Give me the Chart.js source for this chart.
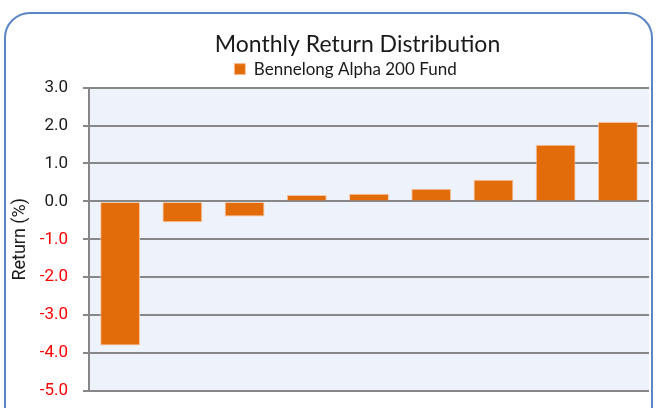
<!DOCTYPE html>
<html>
<head>
<meta charset="utf-8">
<script src="https://cdn.jsdelivr.net/npm/chart.js@4.4.1/dist/chart.umd.min.js"></script>
<style>
  html, body { margin: 0; padding: 0; background: #fff; }
  #wrap { position: relative; width: 658px; height: 408px; overflow: hidden; }
  #frame {
    position: absolute; left: 4px; top: 12px; width: 649px; height: 430px;
    border: 2px solid #5a86c4; border-radius: 26px; box-sizing: border-box;
  }
  canvas { position: absolute; left: 0; top: 0; }
</style>
</head>
<body>
<div id="wrap">
  <div id="frame"></div>
  <canvas id="chart" width="658" height="408"></canvas>
</div>
<script>
// ---- Data ----
const months = ['1', '2', '3', '4', '5', '6', '7', '8', '9'];
const returns = [-3.8, -0.55, -0.4, 0.17, 0.2, 0.33, 0.57, 1.49, 2.09];
const seriesName = 'Bennelong Alpha 200 Fund';
const chartTitle = 'Monthly Return Distribution';
const yTitle = 'Return (%)';

// ---- Plot background ----
const plotBg = {
  id: 'plotBg',
  beforeDraw(chart) {
    const { ctx, chartArea: a } = chart;
    ctx.save();
    ctx.fillStyle = '#eef2fb';
    ctx.fillRect(a.left, a.top, a.right - a.left, a.bottom - a.top);
    ctx.restore();
  }
};

// original has title/legend sitting a bit right of canvas centre
const nudgeHeader = {
  id: 'nudgeHeader',
  afterLayout(chart) {
    const shift = (box, dx) => { if (box) { box.left += dx; box.right += dx; } };
    shift(chart.titleBlock, 33);
    shift(chart.legend, 21);
  }
};

new Chart(document.getElementById('chart'), {
  type: 'bar',
  data: {
    labels: months,
    datasets: [{
      label: seriesName,
      data: returns,
      backgroundColor: '#e36c0a',
      borderColor: 'rgba(250,190,150,0.9)',
      borderWidth: 1,
      barPercentage: 0.64,
      categoryPercentage: 1
    }]
  },
  options: {
    responsive: false,
    animation: false,
    layout: { padding: { top: 31, right: 9, bottom: 17, left: 0 } },
    plugins: {
      title: {
        display: true,
        text: chartTitle,
        color: '#1a1a1a',
        font: { family: 'Lato', size: 23, weight: 'normal' },
        padding: { top: 0, bottom: 0 }
      },
      legend: {
        display: true,
        labels: {
          color: '#1a1a1a',
          font: { family: 'Lato', size: 17 },
          boxWidth: 11, boxHeight: 11,
          padding: 2
        }
      },
      tooltip: { enabled: false }
    },
    scales: {
      x: { display: false },
      y: {
        min: -5, max: 3,
        ticks: {
          stepSize: 1,
          padding: 15,
          color: (c) => c.tick.value < 0 ? '#ff0000' : '#1a1a1a',
          font: { family: 'Roboto', size: 17 },
          callback: (v) => v.toFixed(1)
        },
        grid: { color: '#878787', lineWidth: 2, tickLength: 6 },
        border: { color: '#878787', width: 2 },
        title: {
          display: true,
          text: yTitle,
          color: '#1a1a1a',
          font: { family: 'Roboto', size: 18 },
          padding: { top: 10, bottom: 0 }
        },
        afterFit: (scale) => {
          scale.width = 89;
          scale.paddingTop = 0;
          scale.paddingBottom = 0;
        }
      }
    }
  },
  plugins: [plotBg, nudgeHeader]
});
</script>
</body>
</html>
